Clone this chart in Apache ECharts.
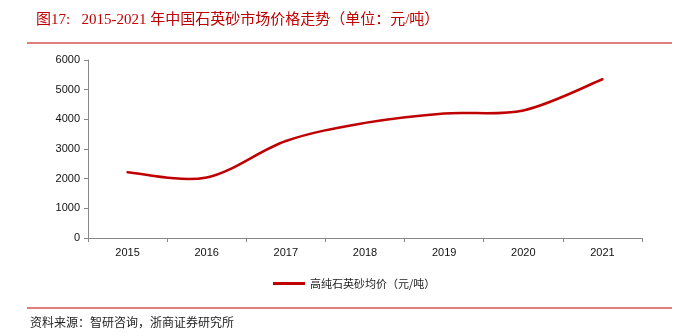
<!DOCTYPE html>
<html>
<head>
<meta charset="utf-8">
<script src="https://cdn.jsdelivr.net/npm/echarts@6/dist/echarts.min.js"></script>
<style>
  html, body { margin: 0; padding: 0; background: #fff; }
  #chart { width: 689px; height: 336px; }
</style>
</head>
<body>
<div id="chart"></div>
<script>
// Average price of high-purity quartz sand, yuan per tonne
const years = ['2015', '2016', '2017', '2018', '2019', '2020', '2021'];
const avgPrice = [2220, 2040, 3270, 3880, 4200, 4300, 5350];
const yTicks = [0, 1000, 2000, 3000, 4000, 5000, 6000];

const seriesName = '高纯石英砂均价（元/吨）';
const titleText = '图17:   2015-2021 年中国石英砂市场价格走势（单位：元/吨）';
const sourceText = '资料来源：智研咨询，浙商证券研究所';

const red = '#c00000';
const chart = echarts.init(document.getElementById('chart'));

// Smoothed curve through all points (Catmull-Rom style Bezier segments),
// positioned with the grid's own coordinate system.
function renderCurve(params, api) {
  if (params.dataIndex !== 0) return null;
  const pts = avgPrice.map((v, i) => api.coord([i, v]));
  const n = pts.length;
  const cmds = [['M', pts[0][0], pts[0][1]]];
  for (let i = 0; i < n - 1; i++) {
    const p0 = pts[Math.max(i - 1, 0)];
    const p1 = pts[i];
    const p2 = pts[i + 1];
    const p3 = pts[Math.min(i + 2, n - 1)];
    const c1 = [p1[0] + (p2[0] - p0[0]) / 6, p1[1] + (p2[1] - p0[1]) / 6];
    const c2 = [p2[0] - (p3[0] - p1[0]) / 6, p2[1] - (p3[1] - p1[1]) / 6];
    cmds.push(['C', c1[0], c1[1], c2[0], c2[1], p2[0], p2[1]]);
  }
  const d = cmds.map(c => c[0] + c.slice(1).map(x => x.toFixed(2)).join(' ')).join(' ');
  return {
    type: 'path',
    shape: { pathData: d },
    style: { fill: null, stroke: red, lineWidth: 2.5, lineCap: 'round', lineJoin: 'round' }
  };
}

chart.setOption({
  backgroundColor: '#fff',
  animation: false,
  title: {
    text: titleText,
    left: 31,
    top: 8,
    textStyle: {
      color: red,
      fontSize: 15,
      fontWeight: 'normal',
      fontFamily: '"Liberation Serif", "Noto Sans CJK SC", serif'
    }
  },
  graphic: [
    { type: 'line', shape: { x1: 27, y1: 43, x2: 672, y2: 43 },
      style: { stroke: red, lineWidth: 1.2 } },
    { type: 'line', shape: { x1: 27, y1: 308, x2: 672, y2: 308 },
      style: { stroke: red, lineWidth: 1.2 } },
    { type: 'text', left: 30, top: 316,
      style: { text: sourceText, fill: '#222', fontSize: 12,
        fontFamily: '"Noto Sans CJK SC", serif' } }
  ],
  legend: {
    data: [{ name: seriesName, icon: 'rect', itemStyle: { color: red } }],
    top: 273,
    left: 268,
    itemWidth: 32,
    itemHeight: 3,
    textStyle: { color: '#222', fontSize: 11, fontFamily: '"Noto Sans CJK SC", sans-serif' }
  },
  grid: { left: 88, right: 47, top: 60, bottom: 98, containLabel: false },
  xAxis: {
    type: 'category',
    data: years,
    boundaryGap: true,
    axisLine: { lineStyle: { color: '#888', width: 1 } },
    axisTick: { show: true, length: 4, lineStyle: { color: '#888' } },
    axisLabel: { color: '#111', fontSize: 11, margin: 9,
      fontFamily: '"Liberation Sans", Arial, sans-serif' }
  },
  yAxis: {
    type: 'value',
    min: yTicks[0],
    max: yTicks[yTicks.length - 1],
    interval: 1000,
    axisLine: { show: true, lineStyle: { color: '#888', width: 1 } },
    axisTick: { show: true, length: 4, lineStyle: { color: '#888' } },
    splitLine: { show: false },
    axisLabel: { color: '#111', fontSize: 11, margin: 8,
      formatter: v => String(v),
      fontFamily: '"Liberation Sans", Arial, sans-serif' }
  },
  series: [{
    name: seriesName,
    type: 'custom',
    renderItem: renderCurve,
    data: avgPrice.map((v, i) => [i, v]),
    encode: { x: 0, y: 1 },
    itemStyle: { color: red },
    clip: false
  }]
});
</script>
</body>
</html>
